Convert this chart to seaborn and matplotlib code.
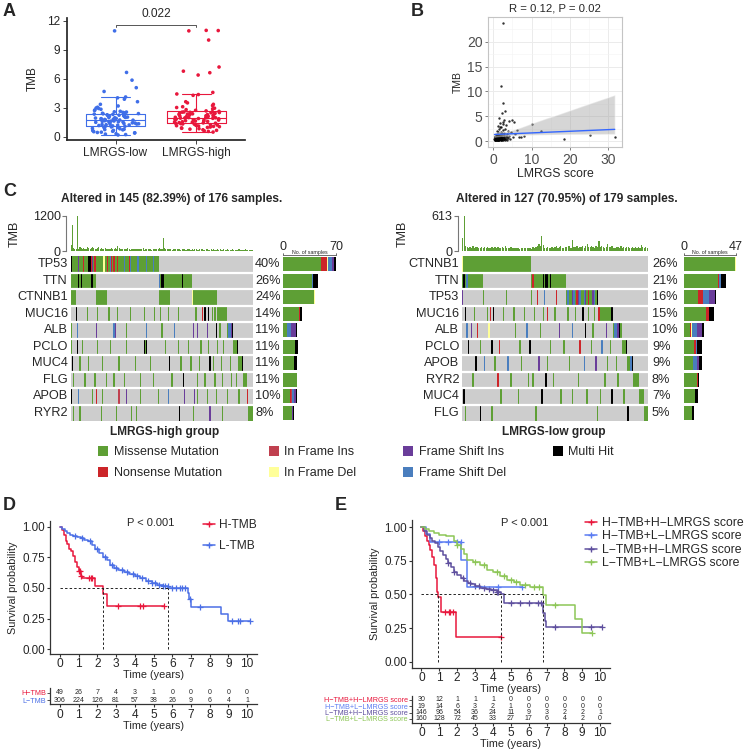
import numpy as np
import pandas as pd
import matplotlib
matplotlib.use("Agg")
import matplotlib.pyplot as plt
import seaborn as sns
from matplotlib.colors import ListedColormap
from matplotlib.patches import Patch
from matplotlib.lines import Line2D

# ---------------- Panel A: TMB by LMRGS group ----------------
tmb_low = [0.18, 0.22, 0.27, 0.31, 0.38, 0.41, 0.44, 0.47, 0.52, 0.56, 0.63, 0.66, 0.71, 0.74, 0.77, 0.82,
           0.86, 0.93, 0.97, 1.01, 1.04, 1.08, 1.12,
           1.16, 1.19, 1.21, 1.24, 1.26, 1.29, 1.31, 1.34, 1.37, 1.41, 1.43, 1.46, 1.49, 1.52, 1.54, 1.57,
           1.59, 1.61, 1.63, 1.66, 1.68, 1.69, 1.71,
           1.73, 1.76, 1.78, 1.81, 1.84, 1.87, 1.89, 1.93, 1.96, 1.99, 2.0, 2.03, 2.06, 2.08, 2.12, 2.16,
           2.19, 2.23, 2.27, 2.31, 2.34, 2.37, 2.39,
           2.43, 2.47, 2.52, 2.55, 2.58, 2.63, 2.71, 2.76, 2.84, 2.92, 2.97, 3.05, 3.18, 3.35, 3.62, 3.88,
           4.02, 4.11, 4.68, 5.07, 5.85, 6.65, 10.95]
tmb_high = [0.48, 0.55, 0.61, 0.66, 0.72, 0.78, 0.83, 0.87, 0.91, 0.96, 1.0, 1.04, 1.07, 1.11, 1.14, 1.18,
            1.21, 1.24, 1.27, 1.3, 1.32, 1.35, 1.37,
            1.4, 1.43, 1.46, 1.49, 1.52, 1.55, 1.58, 1.6, 1.63, 1.66, 1.69, 1.72, 1.74, 1.77, 1.8, 1.83,
            1.85, 1.88, 1.9, 1.92, 1.94, 1.95, 1.96,
            1.98, 2.01, 2.04, 2.07, 2.1, 2.13, 2.16, 2.19, 2.22, 2.25, 2.28, 2.31, 2.34, 2.37, 2.4, 2.43,
            2.45, 2.48, 2.5, 2.52, 2.54, 2.56, 2.58,
            2.62, 2.67, 2.73, 2.8, 2.88, 2.95, 3.02, 3.1, 3.22, 3.35, 3.5, 3.62, 4.28, 4.36, 4.42, 4.58,
            6.38, 6.62, 6.78, 7.21, 10.0, 10.95, 10.98, 11.0]
p_value_a = "0.022"

# ---------------- Panel B: LMRGS score vs TMB ----------------
lmrgs_score = [0.4, 0.5, 0.6, 0.7, 0.8, 0.9, 1.0, 1.0, 1.1, 1.2, 1.2, 1.3, 1.3, 1.4, 1.5, 1.5, 1.6, 1.6,
               1.7, 1.7, 1.8, 1.8, 1.9, 1.9, 2.0, 2.0, 2.1, 2.1, 2.2, 2.2, 2.3, 2.3, 2.4, 2.4, 2.5, 2.5,
               2.6, 2.6, 2.7, 2.7, 2.8, 2.8, 2.9, 3.0, 3.0, 3.1, 3.2, 3.3, 3.4, 3.5, 3.6, 3.8, 3.9, 4.0,
               4.2, 4.4, 4.6, 4.8, 5.1, 5.5, 5.8, 6.1, 6.6, 7.3, 8.0, 10.2, 12.5, 18.5, 25.2, 31.8,
               0.5, 0.9, 1.1, 1.4, 1.9, 2.2, 2.6, 3.1, 0.7, 1.6, 2.0, 2.9, 3.5, 1.2, 1.8, 2.4,
               0.3, 0.4, 0.5, 0.6, 0.6, 0.7, 0.8, 0.8, 0.9, 1.0, 1.0, 1.1, 1.1, 1.2, 1.2, 1.3, 1.3, 1.4,
               1.4, 1.5, 1.5, 1.6, 1.6, 1.7, 1.7, 1.8, 1.8, 1.9, 1.9, 2.0, 0.4, 0.5, 0.7, 0.9, 1.0, 1.2,
               1.3, 1.5, 1.6, 1.8, 0.6, 0.8, 1.1, 1.4, 1.7, 2.0, 0.5, 0.9, 1.3, 1.9, 0.7, 1.0, 1.2, 1.5,
               1.8, 0.8, 1.1, 1.4, 1.6, 1.9]
tmb_b = [0.3, 0.8, 0.4, 1.2, 0.5, 2.1, 0.6, 1.5, 0.3, 0.9, 3.1, 0.5, 1.8, 0.7, 4.7, 1.1, 0.4, 2.4,
         0.8, 1.4, 0.6, 3.6, 11.1, 1.0, 0.5, 1.9, 0.7, 2.8, 5.6, 1.2, 0.4, 1.6, 23.8, 0.9, 7.7, 2.2,
         0.6, 3.9, 1.3, 0.5, 4.2, 0.8, 1.7, 6.0, 0.6, 2.5, 1.0, 0.4, 3.3, 0.9, 1.5, 0.7, 2.0, 4.0,
         1.1, 0.5, 1.8, 4.3, 0.8, 3.9, 1.5, 2.2, 0.9, 0.8, 1.0, 3.5, 2.0, 0.5, 1.3, 0.9,
         0.2, 0.3, 1.0, 0.2, 0.3, 0.2, 0.3, 0.3, 0.2, 0.6, 0.9, 0.4, 0.3, 0.4, 2.9, 3.4,
         0.5, 0.7, 0.3, 0.9, 0.4, 0.6, 1.1, 0.3, 0.8, 0.5, 1.0, 0.4, 0.7, 0.6, 1.2, 0.3, 0.9, 0.5,
         0.8, 0.4, 1.0, 0.7, 0.3, 0.6, 1.1, 0.5, 0.8, 0.4, 0.7, 0.6, 0.9, 0.4, 0.8, 0.5, 0.3, 0.7,
         0.6, 0.4, 0.9, 0.5, 0.8, 0.6, 0.5, 0.9, 0.4, 0.7, 1.0, 0.6, 0.4, 0.8, 0.5, 0.7, 0.3, 0.9,
         0.6, 0.4, 0.8, 0.6, 0.5, 0.3]
title_b = "R = 0.12, P = 0.02"

# ---------------- Panel C: oncoplots ----------------
# run-length rows: code + count; . none, M missense, N nonsense, I in-frame ins,
# D in-frame del, F frame-shift ins, S frame-shift del, H multi hit
high_genes = ["TP53", "TTN", "CTNNB1", "MUC16", "ALB", "PCLO", "MUC4", "FLG", "APOB", "RYR2"]
high_pcts = ["40%", "26%", "24%", "14%", "11%", "11%", "11%", "11%", "10%", "8%"]
high_rows = [
    "H1 M5 F1 M3 N1 M3 H2 N1 F1 M1 N1 M6 D1 M2 N1 M1 S1 N1 M1 N1 M2 N1 M4 S1 M3 N1 S1 M5 S1 M6 S1 M4 S1 M4 .75",
    "M6 H1 M1 H1 M7 H2 M2 .50 S1 M1 H2 M14 H1 M7 .49",
    "M4 .16 M9 .41 M9 .17 D1 M19 .29",
    ".4 H1 .8 M1 .7 M1 .8 M1 .6 M1 .9 M1 .10 M1 .7 M1 .4 M1 .5 M1 .7 M1 .13 M1 .4 N1 .1 H1 .2 H1 .2 M1 .1 M1 .1 M8 .21",
    "M1 .4 S1 .14 F1 .13 S1 F1 .8 M1 .15 S1 .11 M1 .9 S1 .14 F1 .2 F1 .7 F1 .6 H1 .2 M1 .5 M1 S2 F1 H1 .16",
    "M1 .4 H1 .3 M1 .11 M1 .9 M1 .12 M1 .13 H1 M1 H1 .14 M1 .9 M1 .7 M1 .9 M1 .5 M1 .6 M1 .4 M1 .7 M3 H1 .12",
    ".1 H1 .5 M1 .6 M1 .10 M1 .12 M1 .12 M1 .11 M1 .14 H1 .8 M1 .7 M1 .6 M1 .7 H1 .2 M1 .5 M1 .6 M1 .6 M3 H1 .8",
    ".2 M1 .8 M1 .7 M1 .8 M1 .5 M1 .7 M1 .12 M1 .9 M1 .14 M1 .8 H1 .10 M1 .5 M1 .7 M1 .5 M1 .6 M1 .3 M1 .5 M3 .5",
    "H1 .5 S1 .10 M1 .2 N1 .4 M1 .12 I1 .5 F1 .10 M1 .13 M1 .7 S1 .12 F1 .7 F1 .1 M1 .7 M1 .6 M1 .8 M1 .8 M1 .6 N1 .4",
    ".2 M1 .4 M1 .16 M1 .11 M1 .11 M1 .3 M1 .33 H1 .10 M1 .12 F1 .9 M1 .20 M4",
]
high_tmb = [205, 890, 110, 75, 80, 1200, 65, 140, 95, 70, 120, 85, 60, 150, 100,
            75, 90, 130, 110, 70, 80, 95, 150, 60, 120, 85, 70, 90, 65, 55,
            80, 70, 95, 60, 85, 110, 75, 175, 90, 65, 70, 55, 80, 60, 75,
            90, 65, 50, 70, 85, 60, 75, 55, 65, 80, 70, 60, 90, 50, 65,
            55, 70, 60, 85, 50, 65, 75, 60, 55, 70, 90, 60, 80, 430, 95,
            70, 60, 85, 55, 65, 50, 75, 60, 70, 55, 65, 60, 50, 70, 55,
            60, 45, 65, 55, 70, 50, 60, 40, 55, 65, 50, 45, 60, 55, 70,
            50, 45, 55, 60, 40, 50, 65, 45, 55, 50, 40, 60, 45, 55, 50,
            45, 55, 40, 50, 60, 45, 50, 40, 55, 45, 50, 40, 45, 55, 40,
            50, 45, 40, 55, 45, 40, 50, 45, 40, 50]
high_title = "Altered in 145 (82.39%) of 176 samples."

low_genes = ["CTNNB1", "TTN", "TP53", "MUC16", "ALB", "PCLO", "APOB", "RYR2", "MUC4", "FLG"]
low_pcts = ["26%", "21%", "16%", "15%", "10%", "9%", "9%", "8%", "7%", "5%"]
low_rows = [
    "D1 M46 .80",
    "M1 H1 M1 S1 M10 .33 M1 N1 M6 H1 M1 H2 M1 H1 M10 .56",
    "F1 .13 M1 .15 M1 .16 M1 .3 N1 .4 S1 .7 N1 .6 M1 S1 M2 F1 S1 M1 N1 F1 S1 M2 S1 F1 M1 N1 M2 F1 S1 M1 H1 .34",
    ".2 H1 .5 M1 .8 M1 .1 N1 .1 H1 .6 M1 .6 M1 .6 M1 .6 M1 .5 M1 .2 N1 .4 M1 .8 M1 .4 M1 .4 H1 .3 M1 .3 M1 .2 N1 M8 H1 .24",
    ".3 S1 .2 F1 .3 N1 .7 D1 .17 M1 .7 S1 .8 M1 .12 F1 .8 S1 .8 H1 .4 M1 .8 F1 .4 M1 S2 F1 H1 M1 .18",
    ".4 H1 .7 M1 .7 H1 .4 N1 .13 M1 .6 H1 .13 M1 .8 M1 .10 N1 .7 M1 .6 S1 .5 M1 .7 M3 H1 .14",
    ".9 H1 .5 S1 .6 M1 .8 S1 .8 M1 .11 F1 .5 M1 .14 M1 .9 S1 .7 F1 .7 M1 .5 M1 .7 M2 S1 H1 .10",
    ".7 M1 .16 N1 .8 M1 .11 M1 .2 M1 .8 H1 .4 M1 .16 M1 .17 M1 .8 M1 .10 M4 .6",
    ".1 H1 .24 M1 .11 M1 .15 H1 .12 M1 .7 M1 .9 M1 .8 M1 .7 H1 .7 M1 .10 M3 .3",
    ".2 M1 .9 H1 .7 M1 .29 M1 .41 M1 .20 H1 .10 M3",
]
low_tmb = [230, 613, 95, 70, 55, 75, 60, 80, 50, 65, 70, 55, 60, 75, 50,
           65, 55, 70, 60, 50, 75, 55, 65, 60, 70, 50, 55, 65, 60, 80,
           55, 60, 50, 65, 55, 45, 60, 50, 55, 40, 45, 55, 50, 60, 45,
           55, 50, 40, 65, 55, 70, 80, 120, 90, 255, 100, 60, 55, 70, 60,
           50, 65, 55, 75, 90, 60, 70, 85, 60, 55, 75, 65, 80, 90, 60,
           200, 70, 65, 80, 60, 75, 70, 85, 60, 90, 130, 65, 70, 80, 75,
           60, 85, 70, 175, 65, 80, 70, 60, 75, 120, 65, 70, 80, 60, 55,
           70, 65, 60, 80, 55, 70, 60, 65, 75, 60, 55, 70, 60, 65, 50,
           75, 60, 100, 65, 55, 70, 60]
low_title = "Altered in 127 (70.95%) of 179 samples."

mut_labels = ["Missense Mutation", "Nonsense Mutation", "In Frame Ins", "In Frame Del",
              "Frame Shift Ins", "Frame Shift Del", "Multi Hit"]

# ---------------- Panel D: KM by TMB ----------------
d_groups = ["H-TMB", "L-TMB"]
d_times = [
    [0, 0.1, 0.2, 0.3, 0.4, 0.5, 0.6, 0.7, 0.8, 0.9, 1.0, 1.1, 1.2, 1.9, 2.3, 2.5],
    [0, 0.1, 0.25, 0.4, 0.55, 0.7, 0.9, 1.1, 1.3, 1.5, 1.7, 1.9, 2.1, 2.3, 2.5, 2.7, 2.9, 3.1,
     3.4, 3.7, 4.0, 4.3, 4.6, 4.9, 5.2, 5.5, 5.8, 6.85, 6.92, 7.0, 8.6, 9.0],
]
d_surv = [
    [1.0, 0.97, 0.93, 0.88, 0.86, 0.82, 0.80, 0.76, 0.71, 0.67, 0.64, 0.60, 0.58, 0.515, 0.45, 0.35],
    [1.0, 0.985, 0.965, 0.945, 0.935, 0.925, 0.915, 0.905, 0.895, 0.88, 0.85, 0.815, 0.785, 0.755,
     0.725, 0.69, 0.665, 0.645, 0.63, 0.615, 0.6, 0.585, 0.56, 0.54, 0.525, 0.515, 0.50, 0.455,
     0.41, 0.345, 0.285, 0.23],
]
d_end = [5.55, 10.15]
d_censor = [
    [1.0, 1.05, 1.1, 1.55, 1.65, 1.7, 3.1, 4.3, 4.45, 5.55],
    [0.8, 1.2, 1.6, 2.0, 2.4, 2.8, 3.0, 3.3, 3.6, 3.9, 4.1, 4.4, 4.7, 4.9, 5.1, 5.3, 5.5, 5.6, 5.75,
     6.0, 6.2, 6.4, 6.5, 6.7, 6.95, 7.5, 9.2, 9.5, 9.6, 10.15],
]
d_risk = [[49, 26, 7, 4, 3, 1, 0, 0, 0, 0, 0],
          [306, 224, 126, 81, 57, 38, 26, 9, 6, 4, 1]]
d_colors = ["#E8173C", "#4B6FE6"]

# ---------------- Panel E: KM by TMB + LMRGS ----------------
e_groups = ["H−TMB+H−LMRGS score", "H−TMB+L−LMRGS score", "L−TMB+H−LMRGS score", "L−TMB+L−LMRGS score"]
e_times = [
    [0, 0.1, 0.2, 0.3, 0.4, 0.5, 0.6, 0.7, 0.8, 0.87, 0.93, 1.12, 1.92],
    [0, 0.25, 0.45, 2.24, 2.56],
    [0, 0.15, 0.3, 0.45, 0.6, 0.75, 0.9, 1.05, 1.2, 1.35, 1.5, 1.65, 1.8, 2.0, 2.2, 2.4, 2.6, 2.8,
     3.0, 3.3, 3.6, 3.9, 4.2, 4.45, 4.6, 6.8, 6.9, 6.95],
    [0, 0.2, 0.4, 0.7, 1.0, 1.4, 1.8, 2.0, 2.24, 2.4, 2.56, 2.9, 3.27, 3.65, 4.0, 4.4, 4.8, 5.2,
     5.5, 6.07, 6.8, 6.95, 8.6, 8.96],
]
e_surv = [
    [1.0, 0.967, 0.933, 0.90, 0.87, 0.83, 0.78, 0.72, 0.62, 0.52, 0.48, 0.37, 0.185],
    [1.0, 0.947, 0.89, 0.755, 0.556],
    [1.0, 0.97, 0.94, 0.92, 0.90, 0.88, 0.85, 0.82, 0.79, 0.76, 0.73, 0.70, 0.67, 0.645, 0.62, 0.60,
     0.585, 0.575, 0.565, 0.55, 0.54, 0.53, 0.52, 0.5, 0.433, 0.36, 0.30, 0.26],
    [1.0, 0.985, 0.97, 0.955, 0.94, 0.93, 0.90, 0.87, 0.84, 0.80, 0.755, 0.74, 0.72, 0.68, 0.665,
     0.64, 0.61, 0.59, 0.57, 0.555, 0.495, 0.42, 0.315, 0.215],
]
e_end = [4.43, 5.6, 10.1, 9.55]
e_censor = [
    [1.3, 1.55, 1.6, 1.75, 4.43],
    [1.0, 1.5, 2.0, 2.2, 4.3, 5.6],
    [1.5, 1.8, 2.3, 2.7, 3.0, 3.2, 3.5, 3.8, 4.0, 4.2, 4.3, 5.0, 5.5, 6.0, 6.5, 6.7, 7.5, 9.5, 10.1],
    [2.0, 3.0, 3.5, 4.2, 4.6, 5.0, 5.3, 5.8, 6.3, 6.6, 7.5, 9.55],
]
e_risk = [[30, 12, 1, 1, 1, 0, 0, 0, 0, 0, 0],
          [19, 14, 6, 3, 2, 1, 0, 0, 0, 0, 0],
          [146, 96, 54, 36, 24, 11, 9, 3, 2, 2, 1],
          [160, 128, 72, 45, 33, 27, 17, 6, 4, 2, 0]]
e_colors = ["#E8173C", "#5B7CF2", "#5E4F9E", "#8DC657"]

# ============================================================
sns.set_theme(style="white")
plt.rcParams['font.family'] = ['Liberation Sans', 'DejaVu Sans']

W = 750.0
fig = plt.figure(figsize=(7.5, 7.5), dpi=100)


def px_axes(x0, y0, x1, y1):
    return fig.add_axes([x0 / W, 1 - y1 / W, (x1 - x0) / W, (y1 - y0) / W])


def ftext(x, y, s, **kw):
    return fig.text(x / W, 1 - y / W, s, **kw)


# panel letters
for letter, (lx, ly) in zip("ABCDE", [(3, 12), (411, 12), (3, 191), (3, 505), (335, 505)]):
    ftext(lx, ly, letter, fontsize=13, fontweight="bold", va="center", ha="left")

# ---------- A ----------
df_a = pd.DataFrame({"group": ["LMRGS-low"] * len(tmb_low) + ["LMRGS-high"] * len(tmb_high),
                     "TMB": tmb_low + tmb_high})
pal_a = {"LMRGS-low": "#3F6EE8", "LMRGS-high": "#E8173C"}
ax = px_axes(67, 18, 245, 140)
sns.boxplot(data=df_a, x="group", y="TMB", hue="group", palette=pal_a, fill=False, width=0.72,
            showfliers=False, linewidth=0.8, legend=False, ax=ax)
np.random.seed(3)
sns.stripplot(data=df_a, x="group", y="TMB", hue="group", palette=pal_a, jitter=0.3, size=2.6,
              linewidth=0, legend=False, ax=ax)
ax.set_xlim(-0.6, 1.6)
ax.set_ylim(-0.34, 12.28)
ax.set_yticks([0, 3, 6, 9, 12])
ax.set_xlabel("")
ax.set_ylabel("TMB", fontsize=8.5, labelpad=6)
sns.despine(ax=ax)
ax.tick_params(labelsize=8.6, bottom=True, left=True, length=3, width=0.6, pad=2)
ax.plot([0, 0, 1, 1], [11.35, 11.6, 11.6, 11.35], color="#555555", lw=0.7, clip_on=False)
ax.text(0.5, 12.7, p_value_a, ha="center", va="center", fontsize=8.6)

# ---------- B ----------
df_b = pd.DataFrame({"score": lmrgs_score, "TMB": tmb_b})
ax = px_axes(488, 17, 622, 147)
sns.regplot(data=df_b, x="score", y="TMB", ax=ax, ci=95, color="#3366FF",
            scatter_kws=dict(s=3, color="black", linewidths=0),
            line_kws=dict(color="#3366FF", lw=1))
for coll in ax.collections:
    if isinstance(coll, matplotlib.collections.PolyCollection):
        coll.set_facecolor("#999999")
        coll.set_alpha(0.4)
ax.set_xlim(-1.4, 33.7)
ax.set_ylim(-1.2, 25)
ax.set_xticks([0, 10, 20, 30])
ax.set_yticks([0, 5, 10, 15, 20])
ax.set_xticks([5, 15, 25], minor=True)
ax.set_yticks([2.5, 7.5, 12.5, 17.5, 22.5], minor=True)
ax.grid(True, which="major", color="#EBEBEB", lw=0.7)
ax.grid(True, which="minor", color="#F3F3F3", lw=0.4)
ax.set_axisbelow(True)
for sp in ax.spines.values():
    sp.set_color("#C4C4C4")
    sp.set_linewidth(0.8)
ax.tick_params(which="major", labelsize=10, labelcolor="#4D4D4D", bottom=True, left=True,
               length=2.5, width=0.5, color="#4D4D4D", pad=1.5)
ax.tick_params(which="minor", length=0)
ax.set_xlabel("LMRGS score", fontsize=8.8, labelpad=1)
ax.set_ylabel("TMB", fontsize=7.5, labelpad=3)
ax.set_title(title_b, fontsize=8.2, pad=4)

# ---------- C ----------
CODES = {".": 0, "M": 1, "N": 2, "I": 3, "D": 4, "F": 5, "S": 6, "H": 7}
code_colors = ["#CDCDCD", "#5E9F35", "#CC2529", "#C0404F", "#FFFF99", "#6A3D9A", "#4A7EBE", "#000000"]
stack_order = [1, 2, 3, 4, 6, 5, 7]


def decode(rle, ncol):
    out = []
    for tok in rle.split():
        out += [CODES[tok[0]]] * int(tok[1:] or 1)
    out += [0] * (ncol - len(out))
    return out[:ncol]


def oncoplot(rows, genes, pcts, tmb, title, title_x, group, group_x, gx0, gx1, pct_x, bx0, bx1,
             tmb_label_x):
    ncol = len(tmb)
    mat = np.array([decode(r, ncol) for r in rows])
    y_top, y_bot = 256, 421
    row_h = (y_bot - y_top) / len(genes)

    # TMB bars on top
    tax = px_axes(gx0, 216, gx1, 251)
    tmax = max(tmb)
    tax.bar(np.arange(ncol), tmb, width=0.85, color=code_colors[1], linewidth=0)
    tax.set_xlim(-0.5, ncol - 0.5)
    tax.set_ylim(0, tmax)
    tax.set_xticks([])
    tax.set_yticks([0, tmax])
    tax.set_yticklabels(["0", str(tmax)])
    for k in ["top", "right", "bottom"]:
        tax.spines[k].set_visible(False)
    tax.spines["left"].set_position(("outward", 3))
    tax.spines["left"].set_color("#777777")
    tax.spines["left"].set_linewidth(0.8)
    tax.tick_params(axis="y", left=True, length=3, width=0.8, color="#777777", labelsize=9, pad=1)
    ftext(tmb_label_x, 233.5, "TMB", rotation=90, ha="center", va="center", fontsize=9)

    # mutation matrix
    ax = px_axes(gx0, y_top, gx1, y_bot)
    sns.heatmap(mat, cmap=ListedColormap(code_colors), vmin=-0.5, vmax=7.5, cbar=False, ax=ax,
                xticklabels=False, yticklabels=genes)
    ax.hlines(np.arange(1, len(genes)), -1, ncol + 1, color="white", lw=1.6)
    ax.set_yticklabels(genes, rotation=0, fontsize=9.2)
    ax.tick_params(axis="y", length=0, pad=2)

    for i, p in enumerate(pcts):
        ftext(pct_x, y_top + row_h * (i + 0.5), p, ha="left", va="center", fontsize=9.2)

    # right-hand counts
    counts = np.array([[np.sum(mat[g] == c) for c in stack_order] for g in range(len(genes))])
    bmax = int((mat > 0).sum(axis=1).max())
    bax = px_axes(bx0, y_top, bx1, y_bot)
    left = np.zeros(len(genes))
    for j, c in enumerate(stack_order):
        bax.barh(np.arange(len(genes)) + 0.5, counts[:, j], left=left, height=0.86,
                 color=code_colors[c], linewidth=0)
        left += counts[:, j]
    bax.set_xlim(0, bmax)
    bax.set_ylim(len(genes), 0)
    bax.axis("off")
    ftext(bx0, 247, "0", ha="center", va="center", fontsize=9)
    ftext(bx1, 247, str(bmax), ha="center", va="center", fontsize=9)
    ftext((bx0 + bx1) / 2, 252.3, "No. of samples", ha="center", va="center", fontsize=3.8)
    fig.add_artist(Line2D([bx0 / W, bx1 / W], [1 - 254.6 / W] * 2, color="black", lw=0.4))
    for xx in (bx0, bx1):
        fig.add_artist(Line2D([xx / W] * 2, [1 - 252.5 / W, 1 - 254.6 / W], color="black", lw=0.4))

    ftext(title_x, 199, title, ha="center", va="center", fontsize=8.6, fontweight="bold")
    ftext(group_x, 432, group, ha="center", va="center", fontsize=8.6, fontweight="bold")


oncoplot(high_rows, high_genes, high_pcts, high_tmb, high_title, 172, "LMRGS-high group", 165,
         70.5, 253.5, 255, 283, 336, 15)
oncoplot(low_rows, low_genes, low_pcts, low_tmb, low_title, 567, "LMRGS-low group", 554,
         462, 648, 652, 684, 736, 403)

handles = [Patch(facecolor=code_colors[i + 1], edgecolor="none") for i in range(7)]
fig.legend(handles, mut_labels, ncol=4, loc="upper left", bbox_to_anchor=(98 / W, 1 - 446 / W),
           frameon=False, fontsize=9, handlelength=0.8, handleheight=0.8, handletextpad=0.45,
           columnspacing=3.75, labelspacing=0.72, borderpad=0, borderaxespad=0)


# ---------- D & E ----------
def step_value(t_list, s_list, t):
    idx = np.searchsorted(np.asarray(t_list), t, side="right") - 1
    return s_list[max(idx, 0)]


def style_time_axis(ax):
    sns.despine(ax=ax)
    for k in ["left", "bottom"]:
        ax.spines[k].set_color("#333333")
        ax.spines[k].set_linewidth(0.9)
    ax.set_xlim(-0.53, 10.53)
    ax.set_xticks(range(11))
    ax.tick_params(axis="x", labelsize=8.6, bottom=True, length=2.5, width=0.8, color="#333333",
                   pad=0.5)
    ax.set_xlabel("Time (years)", fontsize=7.8, labelpad=0)


def km_panel(ax, times, survs, ends, censors, colors):
    meds = []
    for t, s, te, cens, col in zip(times, survs, ends, censors, colors):
        tt = list(t) + [te]
        ss = list(s) + [s[-1]]
        sns.lineplot(x=tt, y=ss, drawstyle="steps-post", color=col, lw=1.1, estimator=None,
                     sort=False, ax=ax)
        cy = [step_value(t, s, c) for c in cens]
        sns.scatterplot(x=cens, y=cy, marker="+", color=col, s=16, linewidth=0.9, ax=ax)
        below = [ti for ti, si in zip(t, s) if si <= 0.5]
        if below:
            meds.append(below[0])
    mmax = max(meds)
    ax.plot([0, mmax], [0.5, 0.5], color="#222222", lw=0.7, ls=(0, (2.5, 2.2)))
    for m in meds:
        ax.plot([m, m], [0, 0.5], color="#222222", lw=0.7, ls=(0, (2.5, 2.2)))
    ax.set_yticks([0, 0.25, 0.5, 0.75, 1.0])
    ax.set_yticklabels(["0.00", "0.25", "0.50", "0.75", "1.00"])
    style_time_axis(ax)
    ax.tick_params(axis="y", labelsize=8.4, left=True, length=2.5, width=0.8, color="#333333", pad=1)
    ax.set_ylabel("Survival probability", fontsize=7.8, labelpad=3)


def risk_table(ax, groups, risk, colors):
    n = len(groups)
    for i, row in enumerate(risk):
        yy = n - 1 - i
        for tm, v in enumerate(row):
            ax.text(tm, yy, str(v), ha="center", va="center", fontsize=5)
    ax.set_ylim(-0.6, n - 0.4)
    ax.set_yticks(list(range(n - 1, -1, -1)))
    ax.set_yticklabels(groups, fontsize=5.2)
    for lab, col in zip(ax.get_yticklabels(), colors):
        lab.set_color(col)
    style_time_axis(ax)
    ax.tick_params(axis="y", left=True, length=2, width=0.6, color="#333333", pad=1)


# D
ax = px_axes(50, 520.6, 257, 654)
km_panel(ax, d_times, d_surv, d_end, d_censor, d_colors)
ax.set_ylim(-0.04, 1.05)
ax.text(4.85, 1.03, "P < 0.001", ha="center", va="center", fontsize=8)
hd = [Line2D([], [], color=c, lw=1.1, marker="+", ms=5, mew=1) for c in d_colors]
ax.legend(hd, d_groups, loc="upper left", bbox_to_anchor=(203 / W, 1 - 519 / W),
          bbox_transform=fig.transFigure, frameon=False, fontsize=8.6, handlelength=1.0,
          handletextpad=0.3, labelspacing=0.75, borderpad=0, borderaxespad=0)
rax = px_axes(50, 688.3, 257, 704.4)
risk_table(rax, ["H−TMB", "L−TMB"], d_risk, d_colors)

# E
ax = px_axes(412, 520.3, 609.6, 668)
km_panel(ax, e_times, e_surv, e_end, e_censor, e_colors)
ax.set_ylim(-0.046, 1.05)
ax.text(5.8, 1.03, "P < 0.001", ha="center", va="center", fontsize=8)
he = [Line2D([], [], color=c, lw=1.1, marker="+", ms=5, mew=1) for c in e_colors]
ax.legend(he, e_groups, loc="upper left", bbox_to_anchor=(585 / W, 1 - 517 / W),
          bbox_transform=fig.transFigure, frameon=False, fontsize=8.8, handlelength=1.0,
          handletextpad=0.4, labelspacing=0.12, borderpad=0, borderaxespad=0)
rax = px_axes(412, 696.1, 609.6, 722.7)
risk_table(rax, e_groups, e_risk, e_colors)

fig.savefig("out.png", dpi=100)
